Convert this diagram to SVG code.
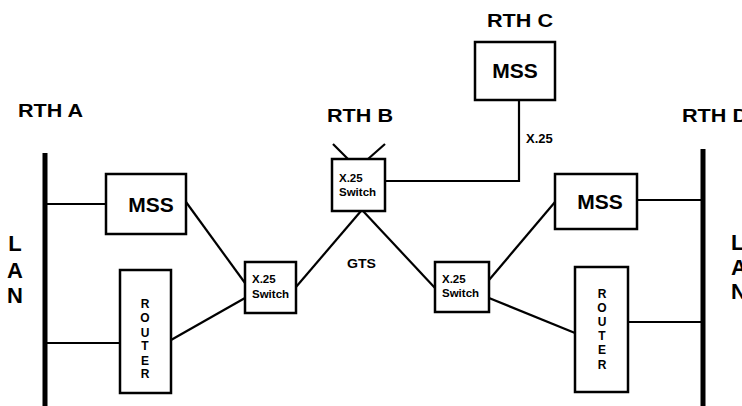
<svg xmlns="http://www.w3.org/2000/svg" width="742" height="406" viewBox="0 0 742 406">
<style>
  .box{fill:#fff;stroke:#000;stroke-width:2.5}
  .ln{fill:none;stroke:#000;stroke-width:2.2}
  .bar{fill:none;stroke:#000;stroke-width:5}
  text{font-family:"Liberation Sans",Arial,sans-serif;font-weight:bold;fill:#000}
  .rth{font-size:18px}
  .mss{font-size:21px;text-anchor:middle}
  .sw{font-size:11.5px}
  .rt{font-size:12px;text-anchor:middle}
  .lan{font-size:22px;text-anchor:middle}
  .lanr{font-size:22px}
  .lbl{font-size:13px}
</style>
<rect width="742" height="406" fill="#fff"/>
<g id="connectors">
  <line class="ln" x1="45" y1="204" x2="106" y2="204"/>
  <line class="ln" x1="45" y1="343" x2="120" y2="343"/>
  <line class="ln" x1="186" y1="202" x2="245" y2="283"/>
  <line class="ln" x1="171" y1="340" x2="245" y2="298"/>
  <line class="ln" x1="361" y1="211" x2="296" y2="287"/>
  <line class="ln" x1="363" y1="211" x2="435" y2="288"/>
  <polyline class="ln" points="385,181 519,181 519,100"/>
  <line class="ln" x1="333" y1="144" x2="348" y2="159"/>
  <line class="ln" x1="385" y1="144" x2="368" y2="159"/>
  <line class="ln" x1="489" y1="280" x2="555" y2="202"/>
  <line class="ln" x1="489" y1="298" x2="575" y2="333"/>
  <line class="ln" x1="637" y1="200" x2="703" y2="200"/>
  <line class="ln" x1="628" y1="322" x2="703" y2="322"/>
</g>
<g id="lan-a">
  <line class="bar" x1="45" y1="153" x2="45" y2="406"/>
  <text class="lan" x="15" y="251">L</text>
  <text class="lan" x="15" y="278">A</text>
  <text class="lan" x="15" y="303">N</text>
</g>
<g id="lan-d">
  <line class="bar" x1="703" y1="149" x2="703" y2="406"/>
  <text class="lanr" x="731" y="250">L</text>
  <text class="lanr" x="731" y="275">A</text>
  <text class="lanr" x="731" y="299">N</text>
</g>
<g id="rth-labels">
  <text class="rth" x="18" y="117" textLength="65" lengthAdjust="spacingAndGlyphs">RTH A</text>
  <text class="rth" x="327" y="122" textLength="66" lengthAdjust="spacingAndGlyphs">RTH B</text>
  <text class="rth" x="487" y="27" textLength="66" lengthAdjust="spacingAndGlyphs">RTH C</text>
  <text class="rth" x="682" y="122" textLength="66" lengthAdjust="spacingAndGlyphs">RTH D</text>
  <text class="lbl" x="526" y="143">X.25</text>
  <text class="lbl" x="347" y="268" textLength="29" lengthAdjust="spacingAndGlyphs">GTS</text>
</g>
<g id="mss-a">
  <rect class="box" x="106" y="174" width="80" height="60"/>
  <text class="mss" x="151" y="212">MSS</text>
</g>
<g id="router-a">
  <rect class="box" x="120" y="270" width="51" height="123"/>
  <text class="rt" x="145" y="308">R</text>
  <text class="rt" x="145" y="322">O</text>
  <text class="rt" x="145" y="337">U</text>
  <text class="rt" x="145" y="350">T</text>
  <text class="rt" x="145" y="365">E</text>
  <text class="rt" x="145" y="378">R</text>
</g>
<g id="switch-a">
  <rect class="box" x="245" y="262" width="51" height="51"/>
  <text class="sw" x="252" y="283">X.25</text>
  <text class="sw" x="252" y="298">Switch</text>
</g>
<g id="switch-b">
  <rect class="box" x="332" y="159" width="53" height="52"/>
  <text class="sw" x="339" y="182">X.25</text>
  <text class="sw" x="339" y="196">Switch</text>
</g>
<g id="mss-c">
  <rect class="box" x="475" y="42" width="80" height="58"/>
  <text class="mss" x="515" y="78">MSS</text>
</g>
<g id="switch-d">
  <rect class="box" x="435" y="262" width="54" height="50"/>
  <text class="sw" x="442" y="283">X.25</text>
  <text class="sw" x="442" y="297">Switch</text>
</g>
<g id="mss-d">
  <rect class="box" x="555" y="174" width="82" height="55"/>
  <text class="mss" x="600" y="209">MSS</text>
</g>
<g id="router-d">
  <rect class="box" x="575" y="267" width="53" height="125"/>
  <text class="rt" x="602" y="298">R</text>
  <text class="rt" x="602" y="312">O</text>
  <text class="rt" x="602" y="326">U</text>
  <text class="rt" x="602" y="340">T</text>
  <text class="rt" x="602" y="354">E</text>
  <text class="rt" x="602" y="369">R</text>
</g>
</svg>
